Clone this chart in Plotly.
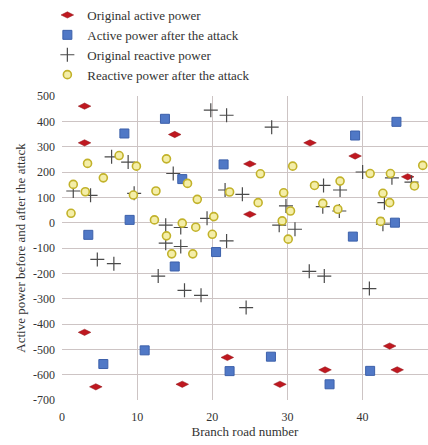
import plotly.graph_objects as go

# Original active power (branch number, value)
orig_active_x = [3, 3, 15, 25, 25, 33, 39, 46, 3, 4.5, 16, 22, 29, 35, 43.6, 44.6]
orig_active_y = [460, 315, 348, 232, 33, 315, 263, 181, -433, -648, -638, -532, -638, -581, -487, -581]

# Active power after the attack
att_active_x = [13.7, 8.3, 9, 3.5, 16, 21.5, 20.5, 15, 44.5, 39, 44.3, 38.7, 11, 5.5, 27.8, 22.3, 41, 35.6]
att_active_y = [410, 352, 11, -48, 172, 230, -116, -173, 398, 344, 0, -55, -504, -558, -529, -586, -585, -638]

# Original reactive power
orig_reactive_x = [6.6, 8.8, 1.5, 3.8, 9.6, 14.8, 13.8, 13.8, 15.8, 15.8, 19.8, 21.9, 27.9, 21.7,
                   24, 19.3, 21.9, 29.8, 28.9, 31, 34.8, 37, 34.7, 36.9, 40, 43.9, 42.9, 42.7,
                   46.5, 4.7, 6.9, 12.8, 16.3, 18.5, 24.5, 32.9, 34.9, 40.9]
orig_reactive_y = [260, 239, 125, 108, 116, 194, -10, -81, -19, -94, 444, 424, 377, 129,
                   112, 17, -72, 66, -10, -26, 147, 129, 63, 46, 200, 177, 79, -6,
                   160, -145, -162, -211, -267, -287, -335, -192, -211, -260]

# Reactive power after the attack
att_reactive_x = [7.6, 9.9, 3.4, 5.5, 1.5, 3.1, 9.5, 1.2, 13.9, 12.5, 12.3, 13.9, 16, 16.7,
                  18, 17.8, 20, 14.6, 17.4, 20.2, 22.3, 26.4, 26.1, 30.7, 29.5, 30.4, 29.3,
                  30.1, 33.6, 37, 34.7, 36.7, 41, 43.7, 42.7, 43.6, 42.4, 46.9, 48]
att_reactive_y = [265, 223, 234, 177, 151, 122, 109, 37, 252, 125, 11, -52, -2, 155,
                  92, -18, -46, -123, -123, 24, 121, 193, 79, 223, 118, 46, 7,
                  -65, 147, 164, 76, 53, 194, 194, 116, 79, 5, 145, 226]

x_ticks = [0, 10, 20, 30, 40]
y_ticks = [500, 400, 300, 200, 100, 0, -100, -200, -300, -400, -500, -600, -700]

serif = "Liberation Serif, Times New Roman, serif"
grid = "#cdc4c4"
ink = "#333333"

fig = go.Figure()
fig.add_trace(go.Scatter(
    x=orig_active_x, y=orig_active_y, mode="markers", name="Original active power",
    marker=dict(symbol="diamond-wide", size=9, color="#bf1820",
                line=dict(color="#8e1015", width=0.5))))
fig.add_trace(go.Scatter(
    x=att_active_x, y=att_active_y, mode="markers", name="Active power after the attack",
    marker=dict(symbol="square", size=9, color="#5078c6",
                line=dict(color="#3c60aa", width=1))))
fig.add_trace(go.Scatter(
    x=orig_reactive_x, y=orig_reactive_y, mode="markers", name="Original reactive power",
    marker=dict(symbol="cross-thin", size=10, color="#4a4a4a",
                line=dict(color="#4a4a4a", width=1.2))))
fig.add_trace(go.Scatter(
    x=att_reactive_x, y=att_reactive_y, mode="markers", name="Reactive power after the attack",
    marker=dict(symbol="circle", size=8, color="#f4eea8",
                line=dict(color="#c2b22a", width=1.6))))

fig.update_layout(
    width=428, height=445,
    margin=dict(l=62, r=0, t=95, b=45),
    paper_bgcolor="white", plot_bgcolor="white",
    font=dict(family=serif, size=13, color=ink),
    showlegend=True,
    legend=dict(x=-0.04, y=1.02, xanchor="left", yanchor="bottom",
                font=dict(family=serif, size=13, color=ink),
                bgcolor="rgba(0,0,0,0)", itemwidth=30, tracegroupgap=0),
    xaxis=dict(range=[0, 48.7], tickvals=x_ticks, ticktext=[str(v) for v in x_ticks],
               showgrid=True, gridcolor=grid, gridwidth=1, zeroline=False,
               showline=False, ticks="", ticklabelstandoff=8,
               tickfont=dict(size=12, color=ink),
               title=dict(text="Branch road number", standoff=2,
                          font=dict(size=13, color=ink))),
    yaxis=dict(range=[-700, 500], tickvals=y_ticks, ticktext=[str(v) for v in y_ticks],
               showgrid=True, gridcolor=grid, gridwidth=1, zeroline=False,
               showline=False, ticks="", ticklabelstandoff=6,
               tickfont=dict(size=12, color=ink),
               title=dict(text="Active power before and after the attack", standoff=4,
                          font=dict(size=13, color=ink))),
)

fig.write_html("out.html")
